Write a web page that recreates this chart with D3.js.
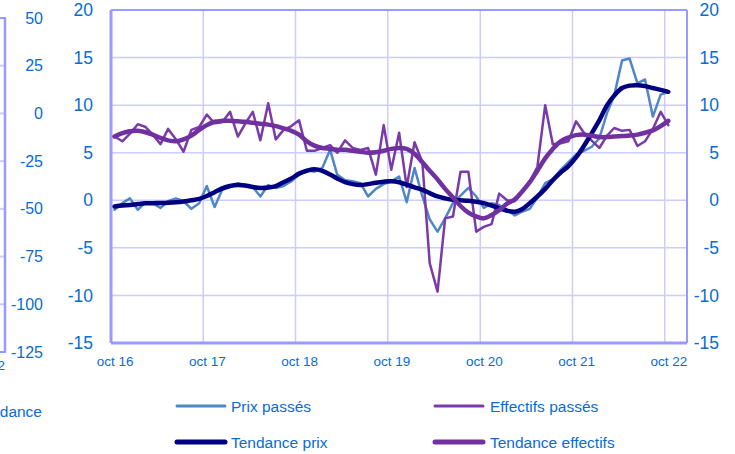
<!DOCTYPE html>
<html>
<head>
<meta charset="utf-8">
<script src="https://cdn.jsdelivr.net/npm/d3@7"></script>
<style>
  body { margin: 0; background: #fff; }
  svg { display: block; font-family: "Liberation Sans", Arial, sans-serif; }
  .tick text { fill: #0a6ccf; }
</style>
</head>
<body>
<svg id="chart" width="735" height="454"></svg>
<script>
// monthly series, oct 16 -> oct 22
var prixPasses = [-1.0,-0.3,0.2,-1.0,-0.2,-0.3,-0.8,-0.1,0.2,-0.1,
  -0.9,-0.3,1.5,-0.7,1.1,1.4,1.8,1.6,1.4,0.4,
  1.6,1.3,1.5,2.0,2.7,3.2,3.0,3.4,5.3,2.7,
  2.1,2.0,1.8,0.4,1.2,1.7,2.0,2.5,-0.2,3.4,
  0.4,-2.0,-3.3,-1.9,-0.3,0.5,1.3,0.4,-0.8,-0.3,
  -0.5,-1.0,-1.6,-1.2,-0.9,0.3,1.8,2.2,3.2,4.0,
  4.8,5.2,5.6,6.5,9.2,11.0,14.7,14.9,12.3,12.7,
  8.8,11.1,11.4];
var tendancePrix = [-0.65,-0.55,-0.5,-0.4,-0.32,-0.3,-0.28,-0.25,-0.2,-0.12,
  0.0,0.15,0.45,0.85,1.25,1.5,1.6,1.55,1.4,1.3,
  1.35,1.5,1.9,2.3,2.8,3.1,3.25,3.1,2.7,2.3,
  1.9,1.7,1.6,1.7,1.85,1.95,2.0,1.9,1.65,1.35,
  1.1,0.75,0.4,0.2,0.05,0.0,-0.05,-0.15,-0.3,-0.55,
  -0.85,-1.1,-1.2,-0.95,-0.3,0.4,1.2,2.1,2.9,3.6,
  4.5,5.7,7.0,8.4,10.0,11.0,11.8,12.05,12.1,12.0,
  11.8,11.6,11.4];
var effectifsPasses = [6.7,6.2,7.0,8.0,7.7,6.9,5.9,7.5,6.4,5.1,
  7.4,7.7,9.0,8.1,8.2,9.3,6.7,8.0,9.3,6.3,
  10.2,6.4,7.4,7.8,8.4,5.2,5.2,5.5,5.8,5.0,
  6.3,5.5,5.3,5.5,2.7,7.9,3.2,7.1,1.4,6.1,
  4.0,-6.6,-9.6,-1.9,-1.7,3.0,3.0,-3.3,-2.8,-2.5,
  0.7,0.0,-0.1,0.8,2.0,3.5,10.0,5.9,6.0,6.2,
  8.3,7.1,6.3,5.5,6.8,7.6,7.3,7.4,5.7,6.2,
  7.5,9.3,7.9];
var tendanceEffectifs = [6.7,7.05,7.25,7.3,7.15,6.9,6.55,6.3,6.2,6.4,
  6.8,7.4,7.9,8.25,8.35,8.35,8.3,8.25,8.15,8.05,
  7.95,7.8,7.55,7.3,6.9,6.2,5.75,5.5,5.4,5.3,
  5.3,5.2,5.1,5.0,5.05,5.2,5.4,5.5,5.4,4.9,
  4.0,3.1,2.2,1.2,0.3,-0.6,-1.3,-1.7,-1.9,-1.55,
  -1.05,-0.35,0.1,0.9,1.9,3.1,4.4,5.4,6.2,6.6,
  6.85,6.9,6.8,6.65,6.65,6.7,6.75,6.8,6.9,7.1,
  7.35,7.8,8.35];

var xLabels = ["oct 16","oct 17","oct 18","oct 19","oct 20","oct 21","oct 22"];
var yTicks = [-15,-10,-5,0,5,10,15,20];
// cut-off neighbour panel on the far left
var leftTicks = [-125,-100,-75,-50,-25,0,25,50];

var legendItems = [
  {name: "Prix passés", color: "#4f86c6", width: 3},
  {name: "Effectifs passés", color: "#7a3aa8", width: 3},
  {name: "Tendance prix", color: "#000080", width: 5},
  {name: "Tendance effectifs", color: "#7030a0", width: 5}
];

(function() {
  var months = d3.timeMonth.range(new Date(2016, 9, 1), new Date(2022, 10, 1));
  var dates = months.map(function(m) { return d3.timeDay.offset(m, 14); });
  var octs = d3.timeYear.range(new Date(2016, 0, 1), new Date(2023, 0, 1))
    .map(function(d) { return new Date(d.getFullYear(), 9, 1); });

  var svg = d3.select("#chart");
  var pLeft = 111, pRight = 687, pTop = 10, pBottom = 343;

  var x = d3.scaleTime()
    .domain([new Date(2016, 9, 1), new Date(2023, 0, 1)])
    .range([pLeft, pRight + 1]);
  var y = d3.scaleLinear().domain([-15, 20]).range([pBottom, pTop]);
  var yLeft = d3.scaleLinear().domain([-125, 50]).range([352, 18]);
  var fmt = function(d) { return String(d); };

  var fontColor = "#0a6ccf";
  var gridColor = "#ccccff";
  var frameColor = "#9999ff";

  // --- neighbour panel fragment ---
  svg.append("g").selectAll("line")
    .data(leftTicks)
    .join("line")
      .attr("x1", 0).attr("x2", 6)
      .attr("y1", function(d) { return yLeft(d); })
      .attr("y2", function(d) { return yLeft(d); })
      .attr("stroke", function(d, i) { return (i == 0 || i == leftTicks.length - 1) ? frameColor : gridColor; })
      .attr("stroke-width", 2);
  svg.append("line")
    .attr("x1", 5).attr("x2", 5).attr("y1", yLeft(50)).attr("y2", yLeft(-125))
    .attr("stroke", frameColor).attr("stroke-width", 2.5);
  svg.append("g")
    .attr("transform", "translate(62,0)")
    .call(d3.axisLeft(yLeft).tickValues(leftTicks).tickFormat(fmt).tickSize(0).tickPadding(19))
    .call(function(g) { g.select(".domain").remove(); })
    .selectAll("text").style("font-size", "16px");
  svg.append("text")
    .attr("x", 5).attr("y", 370)
    .attr("text-anchor", "end")
    .attr("fill", fontColor).style("font-size", "13.5px")
    .text("oct 22");
  svg.append("text")
    .attr("x", 42).attr("y", 417)
    .attr("text-anchor", "end")
    .attr("fill", fontColor).style("font-size", "15.5px")
    .text("Tendance");

  // --- grid ---
  var grid = svg.append("g");
  grid.selectAll(".hgrid")
    .data(yTicks.slice(1, -1))
    .join("line")
      .attr("class", "hgrid")
      .attr("x1", pLeft).attr("x2", pRight)
      .attr("y1", function(d) { return y(d); })
      .attr("y2", function(d) { return y(d); })
      .attr("stroke", gridColor).attr("stroke-width", 1.5);
  grid.selectAll(".vgrid")
    .data(octs.slice(1))
    .join("line")
      .attr("class", "vgrid")
      .attr("x1", function(d) { return x(d); })
      .attr("x2", function(d) { return x(d); })
      .attr("y1", pTop).attr("y2", pBottom)
      .attr("stroke", gridColor).attr("stroke-width", 1.5);

  // frame
  svg.append("line").attr("x1", pLeft).attr("x2", pRight).attr("y1", pTop).attr("y2", pTop)
    .attr("stroke", frameColor).attr("stroke-width", 2);
  svg.append("line").attr("x1", pRight).attr("x2", pRight).attr("y1", pTop).attr("y2", pBottom)
    .attr("stroke", frameColor).attr("stroke-width", 2);
  svg.append("line").attr("x1", pLeft).attr("x2", pRight).attr("y1", pBottom).attr("y2", pBottom)
    .attr("stroke", frameColor).attr("stroke-width", 3);
  svg.append("line").attr("x1", pLeft).attr("x2", pLeft).attr("y1", pTop).attr("y2", pBottom)
    .attr("stroke", frameColor).attr("stroke-width", 3);

  // axes
  svg.append("g")
    .attr("transform", "translate(" + pLeft + ",0)")
    .call(d3.axisLeft(y).tickValues(yTicks).tickFormat(fmt).tickSize(0).tickPadding(18))
    .call(function(g) { g.select(".domain").remove(); })
    .selectAll("text").style("font-size", "17.5px");
  svg.append("g")
    .attr("transform", "translate(" + pRight + ",0)")
    .call(d3.axisRight(y).tickValues(yTicks).tickFormat(fmt).tickSize(0).tickPadding(32))
    .call(function(g) { g.select(".domain").remove(); })
    .selectAll("text").style("font-size", "17.5px").attr("text-anchor", "end");
  svg.append("g")
    .attr("transform", "translate(0," + pBottom + ")")
    .call(d3.axisBottom(x)
      .tickValues(octs.map(function(d) { return d3.timeDay.offset(d, 14); }))
      .tickFormat(function(d, i) { return xLabels[i]; })
      .tickSize(0).tickPadding(13))
    .call(function(g) { g.select(".domain").remove(); })
    .selectAll("text").style("font-size", "13.5px");

  // --- lines ---
  function series(vals) {
    return vals.map(function(v, i) { return {date: dates[i], value: v}; });
  }
  var straight = d3.line()
    .x(function(d) { return x(d.date); })
    .y(function(d) { return y(d.value); });
  var smooth = d3.line()
    .curve(d3.curveCatmullRom.alpha(0.5))
    .x(function(d) { return x(d.date); })
    .y(function(d) { return y(d.value); });

  var lines = [
    {vals: prixPasses, gen: straight, item: legendItems[0], w: 2.5},
    {vals: effectifsPasses, gen: straight, item: legendItems[1], w: 2.5},
    {vals: tendancePrix, gen: smooth, item: legendItems[2], w: 4.5},
    {vals: tendanceEffectifs, gen: smooth, item: legendItems[3], w: 4.5}
  ];
  lines.forEach(function(l) {
    svg.append("path")
      .datum(series(l.vals))
      .attr("fill", "none")
      .attr("stroke", l.item.color)
      .attr("stroke-width", l.w)
      .attr("stroke-linejoin", "round")
      .attr("stroke-linecap", "round")
      .attr("d", l.gen);
  });

  // --- legend ---
  var legend = svg.append("g");
  var lx = [177, 435], ly = [406, 442];
  legendItems.forEach(function(item, i) {
    var col = i % 2, row = Math.floor(i / 2);
    var g = legend.append("g").attr("transform", "translate(" + lx[col] + "," + ly[row] + ")");
    g.append("line")
      .attr("x1", 0).attr("x2", 48).attr("y1", 0).attr("y2", 0)
      .attr("stroke", item.color).attr("stroke-width", item.width)
      .attr("stroke-linecap", "round");
    g.append("text")
      .attr("x", col == 0 ? 54 : 55).attr("y", 5.5)
      .attr("fill", fontColor)
      .style("font-size", "15.5px")
      .text(item.name);
  });
})();
</script>
</body>
</html>
